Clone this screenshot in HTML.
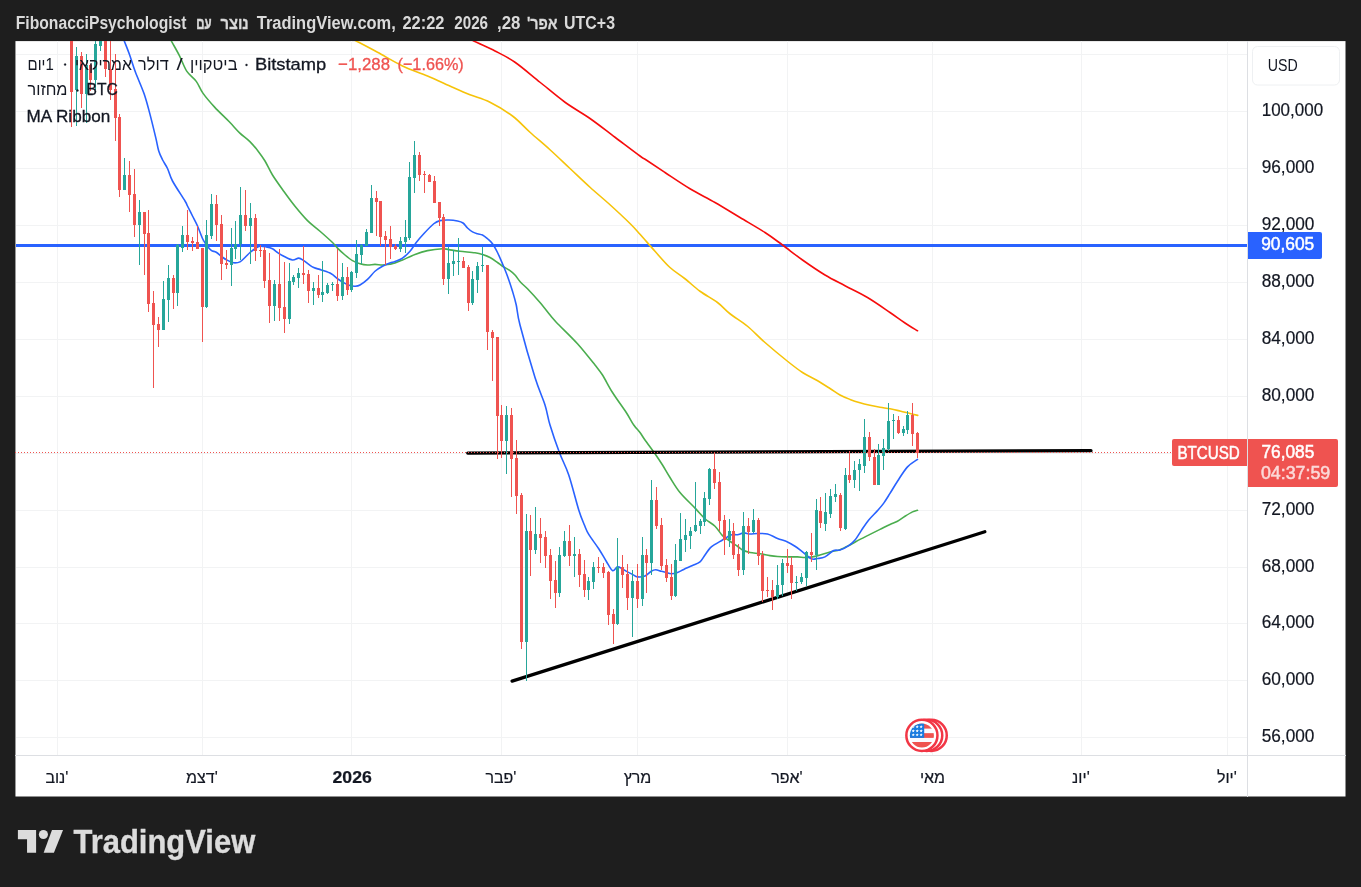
<!DOCTYPE html>
<html lang="he"><head><meta charset="utf-8"><title>BTCUSD</title>
<style>html,body{margin:0;padding:0;background:#1e1e1e;}body{width:1361px;height:887px;overflow:hidden;position:relative;font-family:"Liberation Sans",sans-serif;}svg{position:absolute;left:0;top:0;display:block}text{font-family:"Liberation Sans",sans-serif;}.v{direction:ltr;unicode-bidi:bidi-override}</style>
</head><body>
<svg width="1361" height="887" viewBox="0 0 1361 887" style="will-change:transform">
<rect x="0" y="0" width="1361" height="887" fill="#1e1e1e"/>
<rect x="15.45" y="41.1" width="1330.05" height="755.4" fill="#ffffff"/>
<defs><clipPath id="pane"><rect x="15" y="41" width="1232" height="714"/></clipPath><clipPath id="flag"><circle cx="921.9" cy="735.4" r="12"/></clipPath></defs>
<g shape-rendering="crispEdges" fill="#f2f3f4">
<rect x="57" y="41" width="1" height="714"/>
<rect x="202" y="41" width="1" height="714"/>
<rect x="351" y="41" width="1" height="714"/>
<rect x="501" y="41" width="1" height="714"/>
<rect x="637" y="41" width="1" height="714"/>
<rect x="787" y="41" width="1" height="714"/>
<rect x="932" y="41" width="1" height="714"/>
<rect x="1081" y="41" width="1" height="714"/>
<rect x="1227" y="41" width="1" height="714"/>
<rect x="16" y="54" width="1231" height="1"/>
<rect x="16" y="111" width="1231" height="1"/>
<rect x="16" y="168" width="1231" height="1"/>
<rect x="16" y="225" width="1231" height="1"/>
<rect x="16" y="282" width="1231" height="1"/>
<rect x="16" y="339" width="1231" height="1"/>
<rect x="16" y="396" width="1231" height="1"/>
<rect x="16" y="453" width="1231" height="1"/>
<rect x="16" y="510" width="1231" height="1"/>
<rect x="16" y="567" width="1231" height="1"/>
<rect x="16" y="623" width="1231" height="1"/>
<rect x="16" y="680" width="1231" height="1"/>
<rect x="16" y="737" width="1231" height="1"/>
</g>
<g shape-rendering="crispEdges" fill="#dddfe3">
<rect x="1247" y="41" width="1" height="756"/>
<rect x="15" y="755" width="1331" height="1"/>
</g>
<g clip-path="url(#pane)">
<rect x="16" y="244" width="1231" height="3" fill="#2962ff" shape-rendering="crispEdges"/>
<path d="M452.00,30.00 C455.62,31.83 466.58,37.50 473.75,41.00 C480.92,44.50 488.12,47.46 495.00,51.00 C501.88,54.54 507.50,57.04 515.00,62.25 C522.50,67.46 531.67,75.58 540.00,82.25 C548.33,88.92 556.67,96.21 565.00,102.25 C573.33,108.29 581.67,112.67 590.00,118.50 C598.33,124.33 606.67,131.00 615.00,137.25 C623.33,143.50 634.79,152.21 640.00,156.00 C645.21,159.79 642.08,157.25 646.25,160.00 C650.42,162.75 657.71,167.71 665.00,172.50 C672.29,177.29 681.67,183.75 690.00,188.75 C698.33,193.75 706.67,197.71 715.00,202.50 C723.33,207.29 731.67,212.50 740.00,217.50 C748.33,222.50 757.92,227.92 765.00,232.50 C772.08,237.08 776.25,240.42 782.50,245.00 C788.75,249.58 795.42,255.00 802.50,260.00 C809.58,265.00 817.92,270.71 825.00,275.00 C832.08,279.29 837.92,282.00 845.00,285.75 C852.08,289.50 860.00,293.04 867.50,297.50 C875.00,301.96 883.75,308.25 890.00,312.50 C896.25,316.75 900.42,319.96 905.00,323.00 C909.58,326.04 915.42,329.46 917.50,330.75" fill="none" stroke="#f60c0c" stroke-width="1.6" stroke-linejoin="round" stroke-linecap="round"/>
<path d="M335.00,30.00 C338.54,31.83 349.17,37.29 356.25,41.00 C363.33,44.71 369.79,48.08 377.50,52.25 C385.21,56.42 394.17,62.04 402.50,66.00 C410.83,69.96 419.17,72.46 427.50,76.00 C435.83,79.54 445.42,84.12 452.50,87.25 C459.58,90.38 463.75,92.25 470.00,94.75 C476.25,97.25 482.92,98.71 490.00,102.25 C497.08,105.79 505.83,111.00 512.50,116.00 C519.17,121.00 523.75,126.62 530.00,132.25 C536.25,137.88 543.33,143.71 550.00,149.75 C556.67,155.79 563.33,162.25 570.00,168.50 C576.67,174.75 583.33,181.21 590.00,187.25 C596.67,193.29 603.33,198.71 610.00,204.75 C616.67,210.79 625.00,218.58 630.00,223.50 C635.00,228.42 635.83,229.62 640.00,234.25 C644.17,238.88 650.00,245.71 655.00,251.25 C660.00,256.79 665.00,262.92 670.00,267.50 C675.00,272.08 680.00,274.79 685.00,278.75 C690.00,282.71 694.58,287.29 700.00,291.25 C705.42,295.21 712.50,298.75 717.50,302.50 C722.50,306.25 725.00,309.79 730.00,313.75 C735.00,317.71 741.67,321.46 747.50,326.25 C753.33,331.04 758.33,336.67 765.00,342.50 C771.67,348.33 781.25,356.25 787.50,361.25 C793.75,366.25 797.71,369.38 802.50,372.50 C807.29,375.62 811.67,377.33 816.25,380.00 C820.83,382.67 826.04,386.00 830.00,388.50 C833.96,391.00 836.67,393.18 840.00,395.00 C843.33,396.82 846.67,398.11 850.00,399.40 C853.33,400.69 856.67,401.77 860.00,402.75 C863.33,403.73 866.67,404.50 870.00,405.25 C873.33,406.00 876.67,406.67 880.00,407.25 C883.33,407.83 886.67,408.12 890.00,408.75 C893.33,409.38 896.67,410.21 900.00,411.00 C903.33,411.79 907.04,412.77 910.00,413.50 C912.96,414.23 916.46,415.08 917.75,415.40" fill="none" stroke="#f6c309" stroke-width="1.6" stroke-linejoin="round" stroke-linecap="round"/>
<path d="M165.50,30.00 C166.47,31.82 168.98,36.63 171.30,40.90 C173.62,45.17 176.83,50.57 179.40,55.60 C181.97,60.63 183.89,66.81 186.70,71.10 C189.51,75.39 193.55,77.68 196.25,81.35 C198.95,85.02 199.84,88.81 202.90,93.10 C205.96,97.39 210.20,102.32 214.60,107.10 C219.00,111.88 225.13,117.52 229.30,121.80 C233.47,126.08 236.17,129.50 239.60,132.80 C243.03,136.10 246.72,138.42 249.90,141.60 C253.08,144.78 256.18,148.67 258.70,151.90 C261.22,155.13 262.70,157.15 265.00,161.00 C267.30,164.85 269.38,169.96 272.50,175.00 C275.62,180.04 280.00,186.04 283.75,191.25 C287.50,196.46 291.04,201.36 295.00,206.25 C298.96,211.14 303.33,216.43 307.50,220.60 C311.67,224.77 315.83,227.60 320.00,231.25 C324.17,234.90 329.58,239.69 332.50,242.50 C335.42,245.31 335.42,246.02 337.50,248.10 C339.58,250.18 342.50,252.92 345.00,255.00 C347.50,257.08 350.00,259.14 352.50,260.60 C355.00,262.06 357.50,263.02 360.00,263.75 C362.50,264.48 365.00,264.89 367.50,265.00 C370.00,265.11 372.50,264.40 375.00,264.40 C377.50,264.40 380.00,265.03 382.50,265.00 C385.00,264.97 387.92,264.52 390.00,264.20 C392.08,263.88 392.92,263.80 395.00,263.10 C397.08,262.40 399.17,261.45 402.50,260.00 C405.83,258.55 410.83,255.97 415.00,254.40 C419.17,252.83 422.92,251.54 427.50,250.60 C432.08,249.66 438.96,248.92 442.50,248.75 C446.04,248.58 445.83,249.18 448.75,249.60 C451.67,250.02 455.62,250.72 460.00,251.25 C464.38,251.78 471.25,252.22 475.00,252.75 C478.75,253.28 480.00,253.61 482.50,254.40 C485.00,255.19 487.50,256.15 490.00,257.50 C492.50,258.85 495.42,261.04 497.50,262.50 C499.58,263.96 500.42,264.90 502.50,266.25 C504.58,267.60 507.92,269.14 510.00,270.60 C512.08,272.06 513.23,273.06 515.00,275.00 C516.77,276.94 518.52,279.96 520.60,282.25 C522.68,284.54 524.27,285.38 527.50,288.75 C530.73,292.12 535.83,297.61 540.00,302.50 C544.17,307.39 549.33,314.35 552.50,318.10 C555.67,321.85 554.83,320.73 559.00,325.00 C563.17,329.27 571.50,337.08 577.50,343.75 C583.50,350.42 590.83,359.79 595.00,365.00 C599.17,370.21 599.58,370.42 602.50,375.00 C605.42,379.58 608.54,386.25 612.50,392.50 C616.46,398.75 622.71,407.08 626.25,412.50 C629.79,417.92 631.46,421.67 633.75,425.00 C636.04,428.33 638.12,430.00 640.00,432.50 C641.88,435.00 642.50,436.46 645.00,440.00 C647.50,443.54 652.08,449.58 655.00,453.75 C657.92,457.92 660.00,461.04 662.50,465.00 C665.00,468.96 667.08,472.92 670.00,477.50 C672.92,482.08 675.83,487.40 680.00,492.50 C684.17,497.60 690.83,503.73 695.00,508.10 C699.17,512.48 701.67,515.73 705.00,518.75 C708.33,521.77 712.08,523.44 715.00,526.25 C717.92,529.06 720.00,533.10 722.50,535.60 C725.00,538.10 727.50,539.48 730.00,541.25 C732.50,543.02 735.42,544.79 737.50,546.25 C739.58,547.71 740.42,548.96 742.50,550.00 C744.58,551.04 747.08,551.88 750.00,552.50 C752.92,553.12 756.67,553.23 760.00,553.75 C763.33,554.27 767.08,555.14 770.00,555.60 C772.92,556.06 774.58,556.28 777.50,556.50 C780.42,556.72 784.17,556.83 787.50,556.90 C790.83,556.97 794.58,556.80 797.50,556.90 C800.42,557.00 802.50,557.50 805.00,557.50 C807.50,557.50 810.00,557.32 812.50,556.90 C815.00,556.48 817.08,555.83 820.00,555.00 C822.92,554.17 826.67,552.77 830.00,551.90 C833.33,551.02 836.67,550.90 840.00,549.75 C843.33,548.60 846.67,546.73 850.00,545.00 C853.33,543.27 856.67,541.17 860.00,539.40 C863.33,537.63 866.67,536.07 870.00,534.40 C873.33,532.73 876.67,531.07 880.00,529.40 C883.33,527.73 887.08,525.76 890.00,524.40 C892.92,523.04 895.00,522.61 897.50,521.25 C900.00,519.89 902.50,517.81 905.00,516.25 C907.50,514.69 910.42,512.89 912.50,511.90 C914.58,510.91 916.67,510.57 917.50,510.30" fill="none" stroke="#4aad4e" stroke-width="1.6" stroke-linejoin="round" stroke-linecap="round"/>
<path d="M120.00,30.00 C120.71,31.82 122.68,36.87 124.25,40.90 C125.82,44.93 127.56,49.05 129.40,54.20 C131.24,59.35 132.85,65.20 135.30,71.80 C137.75,78.40 141.65,86.70 144.10,93.80 C146.55,100.90 148.05,107.05 150.00,114.40 C151.95,121.75 154.34,131.80 155.80,137.90 C157.26,144.00 157.63,147.36 158.75,151.00 C159.87,154.64 161.04,156.83 162.50,159.75 C163.96,162.67 165.83,164.96 167.50,168.50 C169.17,172.04 169.58,175.58 172.50,181.00 C175.42,186.42 182.50,196.83 185.00,201.00 C187.50,205.17 186.25,203.50 187.50,206.00 C188.75,208.50 190.83,212.67 192.50,216.00 C194.17,219.33 195.83,222.25 197.50,226.00 C199.17,229.75 201.04,235.38 202.50,238.50 C203.96,241.62 204.79,242.77 206.25,244.75 C207.71,246.73 209.58,249.15 211.25,250.40 C212.92,251.65 214.38,251.11 216.25,252.25 C218.12,253.39 220.62,255.89 222.50,257.25 C224.38,258.61 226.08,259.62 227.50,260.40 C228.92,261.17 229.75,261.48 231.00,261.90 C232.25,262.32 233.50,262.90 235.00,262.90 C236.50,262.90 238.33,262.80 240.00,261.90 C241.67,261.00 243.33,259.07 245.00,257.50 C246.67,255.93 248.33,253.96 250.00,252.50 C251.67,251.04 253.33,249.79 255.00,248.75 C256.67,247.71 258.12,246.56 260.00,246.25 C261.88,245.94 264.17,246.48 266.25,246.90 C268.33,247.32 270.62,247.82 272.50,248.75 C274.38,249.68 275.62,251.25 277.50,252.50 C279.38,253.75 281.25,255.00 283.75,256.25 C286.25,257.50 290.00,259.69 292.50,260.00 C295.00,260.31 296.88,258.00 298.75,258.10 C300.62,258.20 302.08,259.55 303.75,260.60 C305.42,261.65 307.08,263.25 308.75,264.40 C310.42,265.55 311.67,266.57 313.75,267.50 C315.83,268.43 318.33,268.96 321.25,270.00 C324.17,271.04 328.54,272.29 331.25,273.75 C333.96,275.21 335.21,277.14 337.50,278.75 C339.79,280.36 342.92,282.26 345.00,283.40 C347.08,284.54 348.33,285.12 350.00,285.60 C351.67,286.08 353.33,286.35 355.00,286.25 C356.67,286.15 357.92,286.14 360.00,285.00 C362.08,283.86 365.00,281.69 367.50,279.40 C370.00,277.11 372.50,273.44 375.00,271.25 C377.50,269.06 380.00,267.62 382.50,266.25 C385.00,264.88 387.92,263.79 390.00,263.00 C392.08,262.21 392.92,262.32 395.00,261.50 C397.08,260.68 400.00,259.81 402.50,258.10 C405.00,256.39 407.71,253.85 410.00,251.25 C412.29,248.65 413.96,245.42 416.25,242.50 C418.54,239.58 420.83,236.88 423.75,233.75 C426.67,230.62 431.04,225.94 433.75,223.75 C436.46,221.56 437.50,221.22 440.00,220.60 C442.50,219.97 445.83,219.93 448.75,220.00 C451.67,220.07 455.12,220.50 457.50,221.00 C459.88,221.50 461.33,221.83 463.00,223.00 C464.67,224.17 465.92,226.52 467.50,228.00 C469.08,229.48 470.83,230.94 472.50,231.90 C474.17,232.86 475.83,233.23 477.50,233.75 C479.17,234.27 480.83,234.17 482.50,235.00 C484.17,235.83 485.83,237.29 487.50,238.75 C489.17,240.21 490.83,241.46 492.50,243.75 C494.17,246.04 495.83,249.17 497.50,252.50 C499.17,255.83 500.83,259.79 502.50,263.75 C504.17,267.71 505.83,271.67 507.50,276.25 C509.17,280.83 511.04,286.46 512.50,291.25 C513.96,296.04 515.00,299.38 516.25,305.00 C517.50,310.62 516.88,312.92 520.00,325.00 C523.12,337.08 530.83,364.17 535.00,377.50 C539.17,390.83 542.50,397.08 545.00,405.00 C547.50,412.92 547.60,417.08 550.00,425.00 C552.40,432.92 556.27,444.17 559.40,452.50 C562.52,460.83 565.52,465.42 568.75,475.00 C571.98,484.58 576.14,501.67 578.75,510.00 C581.36,518.33 582.73,520.93 584.40,525.00 C586.07,529.07 586.36,530.44 588.75,534.40 C591.14,538.36 595.83,544.27 598.75,548.75 C601.67,553.23 603.96,557.61 606.25,561.25 C608.54,564.89 610.62,569.66 612.50,570.60 C614.38,571.54 615.83,567.17 617.50,566.90 C619.17,566.63 620.83,568.17 622.50,569.00 C624.17,569.83 625.83,571.00 627.50,571.90 C629.17,572.80 630.83,573.57 632.50,574.40 C634.17,575.23 635.42,576.63 637.50,576.90 C639.58,577.17 642.71,576.94 645.00,576.00 C647.29,575.06 649.48,572.29 651.25,571.25 C653.02,570.21 653.93,569.75 655.60,569.75 C657.27,569.75 659.48,570.79 661.25,571.25 C663.02,571.71 664.58,572.08 666.25,572.50 C667.92,572.92 669.38,573.75 671.25,573.75 C673.12,573.75 675.42,573.23 677.50,572.50 C679.58,571.77 681.25,570.55 683.75,569.40 C686.25,568.25 689.79,566.85 692.50,565.60 C695.21,564.35 697.92,563.67 700.00,561.90 C702.08,560.13 703.33,557.30 705.00,555.00 C706.67,552.70 708.33,549.87 710.00,548.10 C711.67,546.33 712.92,545.75 715.00,544.40 C717.08,543.05 720.42,541.25 722.50,540.00 C724.58,538.75 725.83,537.82 727.50,536.90 C729.17,535.98 730.83,534.86 732.50,534.50 C734.17,534.14 735.62,535.02 737.50,534.75 C739.38,534.48 741.67,533.02 743.75,532.90 C745.83,532.77 747.71,533.90 750.00,534.00 C752.29,534.10 754.58,533.50 757.50,533.50 C760.42,533.50 764.17,533.17 767.50,534.00 C770.83,534.83 774.17,537.18 777.50,538.50 C780.83,539.82 784.58,540.61 787.50,541.90 C790.42,543.19 792.50,544.58 795.00,546.25 C797.50,547.92 799.79,549.82 802.50,551.90 C805.21,553.98 808.75,557.65 811.25,558.75 C813.75,559.85 815.21,558.81 817.50,558.50 C819.79,558.19 822.29,558.22 825.00,556.90 C827.71,555.58 831.25,551.75 833.75,550.60 C836.25,549.45 837.50,550.83 840.00,550.00 C842.50,549.17 846.25,547.27 848.75,545.60 C851.25,543.93 852.92,542.50 855.00,540.00 C857.08,537.50 858.96,533.93 861.25,530.60 C863.54,527.27 866.04,523.33 868.75,520.00 C871.46,516.67 875.00,513.42 877.50,510.60 C880.00,507.78 881.67,505.97 883.75,503.10 C885.83,500.23 887.71,497.04 890.00,493.40 C892.29,489.76 894.58,485.67 897.50,481.25 C900.42,476.83 904.17,470.54 907.50,466.90 C910.83,463.26 915.83,460.65 917.50,459.40" fill="none" stroke="#2962ff" stroke-width="1.6" stroke-linejoin="round" stroke-linecap="round"/>
<line x1="467.7" y1="453.05" x2="1091" y2="450.7" stroke="#000" stroke-width="3.25" stroke-linecap="round"/>
<line x1="512.1" y1="681.1" x2="984.8" y2="531.8" stroke="#000" stroke-width="3.3" stroke-linecap="round"/>
<g shape-rendering="crispEdges">
<rect x="71" y="30" width="1" height="97" fill="#ef5350"/><rect x="70" y="30" width="3" height="62" fill="#ef5350"/>
<rect x="76" y="47" width="1" height="79" fill="#26a69a"/><rect x="75" y="56" width="3" height="34" fill="#26a69a"/>
<rect x="81" y="52" width="1" height="56" fill="#ef5350"/><rect x="80" y="56" width="3" height="38" fill="#ef5350"/>
<rect x="86" y="54" width="1" height="69" fill="#26a69a"/><rect x="85" y="65" width="3" height="29" fill="#26a69a"/>
<rect x="90" y="64" width="1" height="27" fill="#ef5350"/><rect x="89" y="65" width="3" height="15" fill="#ef5350"/>
<rect x="95" y="30" width="1" height="60" fill="#26a69a"/><rect x="94" y="44" width="3" height="36" fill="#26a69a"/>
<rect x="100" y="30" width="1" height="21" fill="#26a69a"/><rect x="99" y="30" width="3" height="16" fill="#26a69a"/>
<rect x="105" y="30" width="1" height="47" fill="#ef5350"/><rect x="104" y="30" width="3" height="39" fill="#ef5350"/>
<rect x="110" y="30" width="1" height="70" fill="#ef5350"/><rect x="109" y="69" width="3" height="21" fill="#ef5350"/>
<rect x="115" y="54" width="1" height="87" fill="#ef5350"/><rect x="114" y="89" width="3" height="29" fill="#ef5350"/>
<rect x="119" y="114" width="1" height="83" fill="#ef5350"/><rect x="118" y="117" width="3" height="73" fill="#ef5350"/>
<rect x="124" y="158" width="1" height="32" fill="#26a69a"/><rect x="123" y="175" width="3" height="15" fill="#26a69a"/>
<rect x="129" y="161" width="1" height="51" fill="#ef5350"/><rect x="128" y="175" width="3" height="20" fill="#ef5350"/>
<rect x="134" y="169" width="1" height="68" fill="#ef5350"/><rect x="133" y="194" width="3" height="31" fill="#ef5350"/>
<rect x="139" y="200" width="1" height="65" fill="#26a69a"/><rect x="138" y="212" width="3" height="13" fill="#26a69a"/>
<rect x="144" y="212" width="1" height="63" fill="#ef5350"/><rect x="143" y="212" width="3" height="22" fill="#ef5350"/>
<rect x="148" y="210" width="1" height="102" fill="#ef5350"/><rect x="147" y="233" width="3" height="71" fill="#ef5350"/>
<rect x="153" y="291" width="1" height="97" fill="#ef5350"/><rect x="152" y="303" width="3" height="22" fill="#ef5350"/>
<rect x="158" y="317" width="1" height="30" fill="#ef5350"/><rect x="157" y="324" width="3" height="6" fill="#ef5350"/>
<rect x="163" y="281" width="1" height="49" fill="#26a69a"/><rect x="162" y="299" width="3" height="31" fill="#26a69a"/>
<rect x="168" y="265" width="1" height="57" fill="#26a69a"/><rect x="167" y="278" width="3" height="22" fill="#26a69a"/>
<rect x="173" y="275" width="1" height="34" fill="#ef5350"/><rect x="172" y="278" width="3" height="15" fill="#ef5350"/>
<rect x="177" y="244" width="1" height="62" fill="#26a69a"/><rect x="176" y="245" width="3" height="48" fill="#26a69a"/>
<rect x="182" y="226" width="1" height="26" fill="#26a69a"/><rect x="181" y="235" width="3" height="13" fill="#26a69a"/>
<rect x="187" y="210" width="1" height="40" fill="#ef5350"/><rect x="186" y="235" width="3" height="7" fill="#ef5350"/>
<rect x="192" y="237" width="1" height="14" fill="#ef5350"/><rect x="191" y="241" width="3" height="2" fill="#ef5350"/>
<rect x="197" y="226" width="1" height="23" fill="#ef5350"/><rect x="196" y="242" width="3" height="7" fill="#ef5350"/>
<rect x="202" y="248" width="1" height="94" fill="#ef5350"/><rect x="201" y="248" width="3" height="59" fill="#ef5350"/>
<rect x="206" y="220" width="1" height="88" fill="#26a69a"/><rect x="205" y="235" width="3" height="72" fill="#26a69a"/>
<rect x="211" y="194" width="1" height="45" fill="#26a69a"/><rect x="210" y="204" width="3" height="32" fill="#26a69a"/>
<rect x="216" y="195" width="1" height="46" fill="#ef5350"/><rect x="215" y="204" width="3" height="21" fill="#ef5350"/>
<rect x="221" y="215" width="1" height="65" fill="#ef5350"/><rect x="220" y="224" width="3" height="40" fill="#ef5350"/>
<rect x="226" y="250" width="1" height="19" fill="#ef5350"/><rect x="225" y="263" width="3" height="2" fill="#ef5350"/>
<rect x="231" y="228" width="1" height="58" fill="#26a69a"/><rect x="230" y="248" width="3" height="17" fill="#26a69a"/>
<rect x="235" y="221" width="1" height="38" fill="#26a69a"/><rect x="234" y="244" width="3" height="5" fill="#26a69a"/>
<rect x="240" y="187" width="1" height="73" fill="#26a69a"/><rect x="239" y="215" width="3" height="29" fill="#26a69a"/>
<rect x="245" y="190" width="1" height="41" fill="#ef5350"/><rect x="244" y="215" width="3" height="11" fill="#ef5350"/>
<rect x="250" y="203" width="1" height="61" fill="#26a69a"/><rect x="249" y="218" width="3" height="8" fill="#26a69a"/>
<rect x="255" y="214" width="1" height="47" fill="#ef5350"/><rect x="254" y="218" width="3" height="33" fill="#ef5350"/>
<rect x="260" y="245" width="1" height="12" fill="#ef5350"/><rect x="259" y="250" width="3" height="1" fill="#ef5350"/>
<rect x="264" y="247" width="1" height="41" fill="#ef5350"/><rect x="263" y="250" width="3" height="31" fill="#ef5350"/>
<rect x="269" y="253" width="1" height="70" fill="#ef5350"/><rect x="268" y="280" width="3" height="26" fill="#ef5350"/>
<rect x="274" y="280" width="1" height="41" fill="#26a69a"/><rect x="273" y="284" width="3" height="22" fill="#26a69a"/>
<rect x="279" y="249" width="1" height="72" fill="#ef5350"/><rect x="278" y="284" width="3" height="24" fill="#ef5350"/>
<rect x="284" y="262" width="1" height="71" fill="#ef5350"/><rect x="283" y="307" width="3" height="12" fill="#ef5350"/>
<rect x="289" y="263" width="1" height="61" fill="#26a69a"/><rect x="288" y="281" width="3" height="38" fill="#26a69a"/>
<rect x="293" y="275" width="1" height="10" fill="#26a69a"/><rect x="292" y="277" width="3" height="5" fill="#26a69a"/>
<rect x="298" y="268" width="1" height="20" fill="#26a69a"/><rect x="297" y="273" width="3" height="5" fill="#26a69a"/>
<rect x="303" y="246" width="1" height="38" fill="#ef5350"/><rect x="302" y="273" width="3" height="2" fill="#ef5350"/>
<rect x="308" y="270" width="1" height="33" fill="#ef5350"/><rect x="307" y="274" width="3" height="17" fill="#ef5350"/>
<rect x="313" y="282" width="1" height="23" fill="#26a69a"/><rect x="312" y="288" width="3" height="3" fill="#26a69a"/>
<rect x="318" y="275" width="1" height="23" fill="#ef5350"/><rect x="317" y="288" width="3" height="7" fill="#ef5350"/>
<rect x="322" y="261" width="1" height="41" fill="#26a69a"/><rect x="321" y="292" width="3" height="3" fill="#26a69a"/>
<rect x="327" y="283" width="1" height="11" fill="#26a69a"/><rect x="326" y="285" width="3" height="8" fill="#26a69a"/>
<rect x="332" y="282" width="1" height="9" fill="#26a69a"/><rect x="331" y="284" width="3" height="1" fill="#26a69a"/>
<rect x="337" y="249" width="1" height="52" fill="#ef5350"/><rect x="336" y="284" width="3" height="12" fill="#ef5350"/>
<rect x="342" y="263" width="1" height="37" fill="#26a69a"/><rect x="341" y="277" width="3" height="19" fill="#26a69a"/>
<rect x="347" y="267" width="1" height="28" fill="#ef5350"/><rect x="346" y="277" width="3" height="13" fill="#ef5350"/>
<rect x="351" y="271" width="1" height="21" fill="#26a69a"/><rect x="350" y="272" width="3" height="18" fill="#26a69a"/>
<rect x="356" y="240" width="1" height="38" fill="#26a69a"/><rect x="355" y="254" width="3" height="19" fill="#26a69a"/>
<rect x="361" y="244" width="1" height="20" fill="#26a69a"/><rect x="360" y="245" width="3" height="10" fill="#26a69a"/>
<rect x="366" y="229" width="1" height="17" fill="#26a69a"/><rect x="365" y="232" width="3" height="14" fill="#26a69a"/>
<rect x="371" y="185" width="1" height="48" fill="#26a69a"/><rect x="370" y="198" width="3" height="35" fill="#26a69a"/>
<rect x="376" y="191" width="1" height="45" fill="#ef5350"/><rect x="375" y="198" width="3" height="4" fill="#ef5350"/>
<rect x="380" y="201" width="1" height="45" fill="#ef5350"/><rect x="379" y="201" width="3" height="36" fill="#ef5350"/>
<rect x="385" y="231" width="1" height="34" fill="#ef5350"/><rect x="384" y="236" width="3" height="4" fill="#ef5350"/>
<rect x="390" y="226" width="1" height="33" fill="#ef5350"/><rect x="389" y="239" width="3" height="8" fill="#ef5350"/>
<rect x="395" y="244" width="1" height="6" fill="#ef5350"/><rect x="394" y="246" width="3" height="3" fill="#ef5350"/>
<rect x="400" y="237" width="1" height="15" fill="#26a69a"/><rect x="399" y="241" width="3" height="8" fill="#26a69a"/>
<rect x="405" y="220" width="1" height="33" fill="#26a69a"/><rect x="404" y="237" width="3" height="5" fill="#26a69a"/>
<rect x="409" y="162" width="1" height="78" fill="#26a69a"/><rect x="408" y="177" width="3" height="61" fill="#26a69a"/>
<rect x="414" y="141" width="1" height="52" fill="#26a69a"/><rect x="413" y="155" width="3" height="23" fill="#26a69a"/>
<rect x="419" y="152" width="1" height="29" fill="#ef5350"/><rect x="418" y="155" width="3" height="20" fill="#ef5350"/>
<rect x="424" y="171" width="1" height="22" fill="#ef5350"/><rect x="423" y="174" width="3" height="1" fill="#ef5350"/>
<rect x="429" y="174" width="1" height="8" fill="#ef5350"/><rect x="428" y="175" width="3" height="7" fill="#ef5350"/>
<rect x="434" y="176" width="1" height="27" fill="#ef5350"/><rect x="433" y="181" width="3" height="22" fill="#ef5350"/>
<rect x="439" y="202" width="1" height="24" fill="#ef5350"/><rect x="438" y="202" width="3" height="16" fill="#ef5350"/>
<rect x="443" y="214" width="1" height="71" fill="#ef5350"/><rect x="442" y="217" width="3" height="62" fill="#ef5350"/>
<rect x="448" y="247" width="1" height="47" fill="#26a69a"/><rect x="447" y="263" width="3" height="16" fill="#26a69a"/>
<rect x="453" y="250" width="1" height="26" fill="#26a69a"/><rect x="452" y="261" width="3" height="3" fill="#26a69a"/>
<rect x="458" y="238" width="1" height="37" fill="#26a69a"/><rect x="457" y="261" width="3" height="1" fill="#26a69a"/>
<rect x="463" y="257" width="1" height="11" fill="#ef5350"/><rect x="462" y="261" width="3" height="7" fill="#ef5350"/>
<rect x="468" y="265" width="1" height="46" fill="#ef5350"/><rect x="467" y="267" width="3" height="36" fill="#ef5350"/>
<rect x="472" y="271" width="1" height="34" fill="#26a69a"/><rect x="471" y="279" width="3" height="24" fill="#26a69a"/>
<rect x="477" y="262" width="1" height="31" fill="#26a69a"/><rect x="476" y="266" width="3" height="14" fill="#26a69a"/>
<rect x="482" y="247" width="1" height="25" fill="#26a69a"/><rect x="481" y="265" width="3" height="1" fill="#26a69a"/>
<rect x="487" y="265" width="1" height="85" fill="#ef5350"/><rect x="486" y="265" width="3" height="67" fill="#ef5350"/>
<rect x="492" y="330" width="1" height="51" fill="#ef5350"/><rect x="491" y="332" width="3" height="6" fill="#ef5350"/>
<rect x="497" y="337" width="1" height="122" fill="#ef5350"/><rect x="496" y="337" width="3" height="79" fill="#ef5350"/>
<rect x="501" y="405" width="1" height="53" fill="#ef5350"/><rect x="500" y="415" width="3" height="26" fill="#ef5350"/>
<rect x="506" y="406" width="1" height="68" fill="#26a69a"/><rect x="505" y="415" width="3" height="26" fill="#26a69a"/>
<rect x="511" y="408" width="1" height="89" fill="#ef5350"/><rect x="510" y="415" width="3" height="44" fill="#ef5350"/>
<rect x="516" y="440" width="1" height="74" fill="#ef5350"/><rect x="515" y="458" width="3" height="38" fill="#ef5350"/>
<rect x="521" y="493" width="1" height="156" fill="#ef5350"/><rect x="520" y="495" width="3" height="147" fill="#ef5350"/>
<rect x="526" y="514" width="1" height="167" fill="#26a69a"/><rect x="525" y="531" width="3" height="111" fill="#26a69a"/>
<rect x="530" y="515" width="1" height="61" fill="#ef5350"/><rect x="529" y="531" width="3" height="19" fill="#ef5350"/>
<rect x="535" y="507" width="1" height="47" fill="#26a69a"/><rect x="534" y="534" width="3" height="16" fill="#26a69a"/>
<rect x="540" y="518" width="1" height="45" fill="#ef5350"/><rect x="539" y="534" width="3" height="4" fill="#ef5350"/>
<rect x="545" y="531" width="1" height="37" fill="#ef5350"/><rect x="544" y="537" width="3" height="19" fill="#ef5350"/>
<rect x="550" y="549" width="1" height="50" fill="#ef5350"/><rect x="549" y="555" width="3" height="26" fill="#ef5350"/>
<rect x="555" y="561" width="1" height="47" fill="#ef5350"/><rect x="554" y="580" width="3" height="13" fill="#ef5350"/>
<rect x="559" y="547" width="1" height="50" fill="#26a69a"/><rect x="558" y="555" width="3" height="38" fill="#26a69a"/>
<rect x="564" y="531" width="1" height="26" fill="#26a69a"/><rect x="563" y="541" width="3" height="15" fill="#26a69a"/>
<rect x="569" y="525" width="1" height="41" fill="#ef5350"/><rect x="568" y="541" width="3" height="15" fill="#ef5350"/>
<rect x="574" y="537" width="1" height="40" fill="#26a69a"/><rect x="573" y="554" width="3" height="2" fill="#26a69a"/>
<rect x="579" y="549" width="1" height="38" fill="#ef5350"/><rect x="578" y="554" width="3" height="21" fill="#ef5350"/>
<rect x="584" y="560" width="1" height="37" fill="#ef5350"/><rect x="583" y="574" width="3" height="16" fill="#ef5350"/>
<rect x="588" y="577" width="1" height="23" fill="#26a69a"/><rect x="587" y="581" width="3" height="9" fill="#26a69a"/>
<rect x="593" y="562" width="1" height="27" fill="#26a69a"/><rect x="592" y="567" width="3" height="15" fill="#26a69a"/>
<rect x="598" y="557" width="1" height="16" fill="#ef5350"/><rect x="597" y="567" width="3" height="1" fill="#ef5350"/>
<rect x="603" y="563" width="1" height="15" fill="#ef5350"/><rect x="602" y="567" width="3" height="6" fill="#ef5350"/>
<rect x="608" y="571" width="1" height="54" fill="#ef5350"/><rect x="607" y="572" width="3" height="43" fill="#ef5350"/>
<rect x="613" y="609" width="1" height="35" fill="#ef5350"/><rect x="612" y="614" width="3" height="10" fill="#ef5350"/>
<rect x="617" y="538" width="1" height="87" fill="#26a69a"/><rect x="616" y="567" width="3" height="57" fill="#26a69a"/>
<rect x="622" y="555" width="1" height="33" fill="#ef5350"/><rect x="621" y="567" width="3" height="8" fill="#ef5350"/>
<rect x="627" y="564" width="1" height="46" fill="#ef5350"/><rect x="626" y="574" width="3" height="24" fill="#ef5350"/>
<rect x="632" y="570" width="1" height="67" fill="#26a69a"/><rect x="631" y="581" width="3" height="17" fill="#26a69a"/>
<rect x="637" y="564" width="1" height="44" fill="#ef5350"/><rect x="636" y="581" width="3" height="18" fill="#ef5350"/>
<rect x="642" y="537" width="1" height="69" fill="#26a69a"/><rect x="641" y="555" width="3" height="44" fill="#26a69a"/>
<rect x="646" y="549" width="1" height="44" fill="#ef5350"/><rect x="645" y="555" width="3" height="8" fill="#ef5350"/>
<rect x="651" y="480" width="1" height="95" fill="#26a69a"/><rect x="650" y="500" width="3" height="63" fill="#26a69a"/>
<rect x="656" y="487" width="1" height="42" fill="#ef5350"/><rect x="655" y="500" width="3" height="26" fill="#ef5350"/>
<rect x="661" y="518" width="1" height="52" fill="#ef5350"/><rect x="660" y="525" width="3" height="41" fill="#ef5350"/>
<rect x="666" y="559" width="1" height="23" fill="#ef5350"/><rect x="665" y="565" width="3" height="13" fill="#ef5350"/>
<rect x="671" y="564" width="1" height="36" fill="#ef5350"/><rect x="670" y="577" width="3" height="19" fill="#ef5350"/>
<rect x="675" y="544" width="1" height="53" fill="#26a69a"/><rect x="674" y="560" width="3" height="36" fill="#26a69a"/>
<rect x="680" y="513" width="1" height="48" fill="#26a69a"/><rect x="679" y="539" width="3" height="22" fill="#26a69a"/>
<rect x="685" y="519" width="1" height="33" fill="#26a69a"/><rect x="684" y="535" width="3" height="5" fill="#26a69a"/>
<rect x="690" y="527" width="1" height="22" fill="#26a69a"/><rect x="689" y="531" width="3" height="5" fill="#26a69a"/>
<rect x="695" y="482" width="1" height="50" fill="#26a69a"/><rect x="694" y="525" width="3" height="6" fill="#26a69a"/>
<rect x="700" y="519" width="1" height="15" fill="#26a69a"/><rect x="699" y="521" width="3" height="5" fill="#26a69a"/>
<rect x="704" y="492" width="1" height="34" fill="#26a69a"/><rect x="703" y="498" width="3" height="24" fill="#26a69a"/>
<rect x="709" y="468" width="1" height="37" fill="#26a69a"/><rect x="708" y="469" width="3" height="30" fill="#26a69a"/>
<rect x="714" y="453" width="1" height="36" fill="#ef5350"/><rect x="713" y="469" width="3" height="14" fill="#ef5350"/>
<rect x="719" y="472" width="1" height="59" fill="#ef5350"/><rect x="718" y="482" width="3" height="39" fill="#ef5350"/>
<rect x="724" y="515" width="1" height="40" fill="#ef5350"/><rect x="723" y="520" width="3" height="20" fill="#ef5350"/>
<rect x="729" y="519" width="1" height="28" fill="#26a69a"/><rect x="728" y="531" width="3" height="9" fill="#26a69a"/>
<rect x="733" y="523" width="1" height="36" fill="#ef5350"/><rect x="732" y="531" width="3" height="24" fill="#ef5350"/>
<rect x="738" y="544" width="1" height="32" fill="#ef5350"/><rect x="737" y="554" width="3" height="16" fill="#ef5350"/>
<rect x="743" y="512" width="1" height="63" fill="#26a69a"/><rect x="742" y="526" width="3" height="44" fill="#26a69a"/>
<rect x="748" y="518" width="1" height="36" fill="#ef5350"/><rect x="747" y="526" width="3" height="6" fill="#ef5350"/>
<rect x="753" y="509" width="1" height="24" fill="#26a69a"/><rect x="752" y="520" width="3" height="12" fill="#26a69a"/>
<rect x="758" y="518" width="1" height="47" fill="#ef5350"/><rect x="757" y="520" width="3" height="36" fill="#ef5350"/>
<rect x="762" y="551" width="1" height="51" fill="#ef5350"/><rect x="761" y="555" width="3" height="36" fill="#ef5350"/>
<rect x="767" y="577" width="1" height="20" fill="#ef5350"/><rect x="766" y="590" width="3" height="1" fill="#ef5350"/>
<rect x="772" y="580" width="1" height="30" fill="#ef5350"/><rect x="771" y="590" width="3" height="7" fill="#ef5350"/>
<rect x="777" y="565" width="1" height="34" fill="#26a69a"/><rect x="776" y="585" width="3" height="12" fill="#26a69a"/>
<rect x="782" y="559" width="1" height="37" fill="#26a69a"/><rect x="781" y="563" width="3" height="22" fill="#26a69a"/>
<rect x="787" y="549" width="1" height="24" fill="#ef5350"/><rect x="786" y="563" width="3" height="3" fill="#ef5350"/>
<rect x="791" y="557" width="1" height="42" fill="#ef5350"/><rect x="790" y="565" width="3" height="18" fill="#ef5350"/>
<rect x="796" y="576" width="1" height="15" fill="#26a69a"/><rect x="795" y="582" width="3" height="1" fill="#26a69a"/>
<rect x="801" y="573" width="1" height="11" fill="#26a69a"/><rect x="800" y="577" width="3" height="5" fill="#26a69a"/>
<rect x="806" y="551" width="1" height="35" fill="#26a69a"/><rect x="805" y="552" width="3" height="26" fill="#26a69a"/>
<rect x="811" y="533" width="1" height="29" fill="#ef5350"/><rect x="810" y="552" width="3" height="3" fill="#ef5350"/>
<rect x="816" y="499" width="1" height="71" fill="#26a69a"/><rect x="815" y="510" width="3" height="45" fill="#26a69a"/>
<rect x="820" y="497" width="1" height="31" fill="#ef5350"/><rect x="819" y="511" width="3" height="12" fill="#ef5350"/>
<rect x="825" y="493" width="1" height="38" fill="#26a69a"/><rect x="824" y="512" width="3" height="12" fill="#26a69a"/>
<rect x="830" y="489" width="1" height="29" fill="#26a69a"/><rect x="829" y="496" width="3" height="18" fill="#26a69a"/>
<rect x="835" y="484" width="1" height="18" fill="#26a69a"/><rect x="834" y="494" width="3" height="3" fill="#26a69a"/>
<rect x="840" y="493" width="1" height="38" fill="#ef5350"/><rect x="839" y="495" width="3" height="33" fill="#ef5350"/>
<rect x="845" y="468" width="1" height="62" fill="#26a69a"/><rect x="844" y="475" width="3" height="54" fill="#26a69a"/>
<rect x="849" y="451" width="1" height="32" fill="#ef5350"/><rect x="848" y="475" width="3" height="5" fill="#ef5350"/>
<rect x="854" y="461" width="1" height="27" fill="#26a69a"/><rect x="853" y="470" width="3" height="10" fill="#26a69a"/>
<rect x="859" y="459" width="1" height="32" fill="#26a69a"/><rect x="858" y="464" width="3" height="6" fill="#26a69a"/>
<rect x="864" y="419" width="1" height="54" fill="#26a69a"/><rect x="863" y="437" width="3" height="29" fill="#26a69a"/>
<rect x="869" y="432" width="1" height="29" fill="#ef5350"/><rect x="868" y="437" width="3" height="20" fill="#ef5350"/>
<rect x="874" y="449" width="1" height="36" fill="#ef5350"/><rect x="873" y="457" width="3" height="28" fill="#ef5350"/>
<rect x="878" y="444" width="1" height="41" fill="#26a69a"/><rect x="877" y="455" width="3" height="30" fill="#26a69a"/>
<rect x="883" y="439" width="1" height="31" fill="#26a69a"/><rect x="882" y="448" width="3" height="8" fill="#26a69a"/>
<rect x="888" y="403" width="1" height="48" fill="#26a69a"/><rect x="887" y="421" width="3" height="28" fill="#26a69a"/>
<rect x="893" y="414" width="1" height="25" fill="#26a69a"/><rect x="892" y="420" width="3" height="1" fill="#26a69a"/>
<rect x="898" y="416" width="1" height="18" fill="#ef5350"/><rect x="897" y="420" width="3" height="13" fill="#ef5350"/>
<rect x="903" y="426" width="1" height="10" fill="#26a69a"/><rect x="902" y="429" width="3" height="4" fill="#26a69a"/>
<rect x="907" y="411" width="1" height="23" fill="#26a69a"/><rect x="906" y="415" width="3" height="15" fill="#26a69a"/>
<rect x="912" y="403" width="1" height="43" fill="#ef5350"/><rect x="911" y="415" width="3" height="19" fill="#ef5350"/>
<rect x="917" y="432" width="1" height="26" fill="#ef5350"/><rect x="916" y="433" width="3" height="20" fill="#ef5350"/>
</g>
<g shape-rendering="crispEdges" fill="#ef5350">
<path d="M15,452h1v1h-1zM18,452h1v1h-1zM21,452h1v1h-1zM24,452h1v1h-1zM27,452h1v1h-1zM30,452h1v1h-1zM33,452h1v1h-1zM36,452h1v1h-1zM39,452h1v1h-1zM42,452h1v1h-1zM45,452h1v1h-1zM48,452h1v1h-1zM51,452h1v1h-1zM54,452h1v1h-1zM57,452h1v1h-1zM60,452h1v1h-1zM63,452h1v1h-1zM66,452h1v1h-1zM69,452h1v1h-1zM72,452h1v1h-1zM75,452h1v1h-1zM78,452h1v1h-1zM81,452h1v1h-1zM84,452h1v1h-1zM87,452h1v1h-1zM90,452h1v1h-1zM93,452h1v1h-1zM96,452h1v1h-1zM99,452h1v1h-1zM102,452h1v1h-1zM105,452h1v1h-1zM108,452h1v1h-1zM111,452h1v1h-1zM114,452h1v1h-1zM117,452h1v1h-1zM120,452h1v1h-1zM123,452h1v1h-1zM126,452h1v1h-1zM129,452h1v1h-1zM132,452h1v1h-1zM135,452h1v1h-1zM138,452h1v1h-1zM141,452h1v1h-1zM144,452h1v1h-1zM147,452h1v1h-1zM150,452h1v1h-1zM153,452h1v1h-1zM156,452h1v1h-1zM159,452h1v1h-1zM162,452h1v1h-1zM165,452h1v1h-1zM168,452h1v1h-1zM171,452h1v1h-1zM174,452h1v1h-1zM177,452h1v1h-1zM180,452h1v1h-1zM183,452h1v1h-1zM186,452h1v1h-1zM189,452h1v1h-1zM192,452h1v1h-1zM195,452h1v1h-1zM198,452h1v1h-1zM201,452h1v1h-1zM204,452h1v1h-1zM207,452h1v1h-1zM210,452h1v1h-1zM213,452h1v1h-1zM216,452h1v1h-1zM219,452h1v1h-1zM222,452h1v1h-1zM225,452h1v1h-1zM228,452h1v1h-1zM231,452h1v1h-1zM234,452h1v1h-1zM237,452h1v1h-1zM240,452h1v1h-1zM243,452h1v1h-1zM246,452h1v1h-1zM249,452h1v1h-1zM252,452h1v1h-1zM255,452h1v1h-1zM258,452h1v1h-1zM261,452h1v1h-1zM264,452h1v1h-1zM267,452h1v1h-1zM270,452h1v1h-1zM273,452h1v1h-1zM276,452h1v1h-1zM279,452h1v1h-1zM282,452h1v1h-1zM285,452h1v1h-1zM288,452h1v1h-1zM291,452h1v1h-1zM294,452h1v1h-1zM297,452h1v1h-1zM300,452h1v1h-1zM303,452h1v1h-1zM306,452h1v1h-1zM309,452h1v1h-1zM312,452h1v1h-1zM315,452h1v1h-1zM318,452h1v1h-1zM321,452h1v1h-1zM324,452h1v1h-1zM327,452h1v1h-1zM330,452h1v1h-1zM333,452h1v1h-1zM336,452h1v1h-1zM339,452h1v1h-1zM342,452h1v1h-1zM345,452h1v1h-1zM348,452h1v1h-1zM351,452h1v1h-1zM354,452h1v1h-1zM357,452h1v1h-1zM360,452h1v1h-1zM363,452h1v1h-1zM366,452h1v1h-1zM369,452h1v1h-1zM372,452h1v1h-1zM375,452h1v1h-1zM378,452h1v1h-1zM381,452h1v1h-1zM384,452h1v1h-1zM387,452h1v1h-1zM390,452h1v1h-1zM393,452h1v1h-1zM396,452h1v1h-1zM399,452h1v1h-1zM402,452h1v1h-1zM405,452h1v1h-1zM408,452h1v1h-1zM411,452h1v1h-1zM414,452h1v1h-1zM417,452h1v1h-1zM420,452h1v1h-1zM423,452h1v1h-1zM426,452h1v1h-1zM429,452h1v1h-1zM432,452h1v1h-1zM435,452h1v1h-1zM438,452h1v1h-1zM441,452h1v1h-1zM444,452h1v1h-1zM447,452h1v1h-1zM450,452h1v1h-1zM453,452h1v1h-1zM456,452h1v1h-1zM459,452h1v1h-1zM462,452h1v1h-1zM465,452h1v1h-1zM468,452h1v1h-1zM471,452h1v1h-1zM474,452h1v1h-1zM477,452h1v1h-1zM480,452h1v1h-1zM483,452h1v1h-1zM486,452h1v1h-1zM489,452h1v1h-1zM492,452h1v1h-1zM495,452h1v1h-1zM498,452h1v1h-1zM501,452h1v1h-1zM504,452h1v1h-1zM507,452h1v1h-1zM510,452h1v1h-1zM513,452h1v1h-1zM516,452h1v1h-1zM519,452h1v1h-1zM522,452h1v1h-1zM525,452h1v1h-1zM528,452h1v1h-1zM531,452h1v1h-1zM534,452h1v1h-1zM537,452h1v1h-1zM540,452h1v1h-1zM543,452h1v1h-1zM546,452h1v1h-1zM549,452h1v1h-1zM552,452h1v1h-1zM555,452h1v1h-1zM558,452h1v1h-1zM561,452h1v1h-1zM564,452h1v1h-1zM567,452h1v1h-1zM570,452h1v1h-1zM573,452h1v1h-1zM576,452h1v1h-1zM579,452h1v1h-1zM582,452h1v1h-1zM585,452h1v1h-1zM588,452h1v1h-1zM591,452h1v1h-1zM594,452h1v1h-1zM597,452h1v1h-1zM600,452h1v1h-1zM603,452h1v1h-1zM606,452h1v1h-1zM609,452h1v1h-1zM612,452h1v1h-1zM615,452h1v1h-1zM618,452h1v1h-1zM621,452h1v1h-1zM624,452h1v1h-1zM627,452h1v1h-1zM630,452h1v1h-1zM633,452h1v1h-1zM636,452h1v1h-1zM639,452h1v1h-1zM642,452h1v1h-1zM645,452h1v1h-1zM648,452h1v1h-1zM651,452h1v1h-1zM654,452h1v1h-1zM657,452h1v1h-1zM660,452h1v1h-1zM663,452h1v1h-1zM666,452h1v1h-1zM669,452h1v1h-1zM672,452h1v1h-1zM675,452h1v1h-1zM678,452h1v1h-1zM681,452h1v1h-1zM684,452h1v1h-1zM687,452h1v1h-1zM690,452h1v1h-1zM693,452h1v1h-1zM696,452h1v1h-1zM699,452h1v1h-1zM702,452h1v1h-1zM705,452h1v1h-1zM708,452h1v1h-1zM711,452h1v1h-1zM714,452h1v1h-1zM717,452h1v1h-1zM720,452h1v1h-1zM723,452h1v1h-1zM726,452h1v1h-1zM729,452h1v1h-1zM732,452h1v1h-1zM735,452h1v1h-1zM738,452h1v1h-1zM741,452h1v1h-1zM744,452h1v1h-1zM747,452h1v1h-1zM750,452h1v1h-1zM753,452h1v1h-1zM756,452h1v1h-1zM759,452h1v1h-1zM762,452h1v1h-1zM765,452h1v1h-1zM768,452h1v1h-1zM771,452h1v1h-1zM774,452h1v1h-1zM777,452h1v1h-1zM780,452h1v1h-1zM783,452h1v1h-1zM786,452h1v1h-1zM789,452h1v1h-1zM792,452h1v1h-1zM795,452h1v1h-1zM798,452h1v1h-1zM801,452h1v1h-1zM804,452h1v1h-1zM807,452h1v1h-1zM810,452h1v1h-1zM813,452h1v1h-1zM816,452h1v1h-1zM819,452h1v1h-1zM822,452h1v1h-1zM825,452h1v1h-1zM828,452h1v1h-1zM831,452h1v1h-1zM834,452h1v1h-1zM837,452h1v1h-1zM840,452h1v1h-1zM843,452h1v1h-1zM846,452h1v1h-1zM849,452h1v1h-1zM852,452h1v1h-1zM855,452h1v1h-1zM858,452h1v1h-1zM861,452h1v1h-1zM864,452h1v1h-1zM867,452h1v1h-1zM870,452h1v1h-1zM873,452h1v1h-1zM876,452h1v1h-1zM879,452h1v1h-1zM882,452h1v1h-1zM885,452h1v1h-1zM888,452h1v1h-1zM891,452h1v1h-1zM894,452h1v1h-1zM897,452h1v1h-1zM900,452h1v1h-1zM903,452h1v1h-1zM906,452h1v1h-1zM909,452h1v1h-1zM912,452h1v1h-1zM915,452h1v1h-1zM918,452h1v1h-1zM921,452h1v1h-1zM924,452h1v1h-1zM927,452h1v1h-1zM930,452h1v1h-1zM933,452h1v1h-1zM936,452h1v1h-1zM939,452h1v1h-1zM942,452h1v1h-1zM945,452h1v1h-1zM948,452h1v1h-1zM951,452h1v1h-1zM954,452h1v1h-1zM957,452h1v1h-1zM960,452h1v1h-1zM963,452h1v1h-1zM966,452h1v1h-1zM969,452h1v1h-1zM972,452h1v1h-1zM975,452h1v1h-1zM978,452h1v1h-1zM981,452h1v1h-1zM984,452h1v1h-1zM987,452h1v1h-1zM990,452h1v1h-1zM993,452h1v1h-1zM996,452h1v1h-1zM999,452h1v1h-1zM1002,452h1v1h-1zM1005,452h1v1h-1zM1008,452h1v1h-1zM1011,452h1v1h-1zM1014,452h1v1h-1zM1017,452h1v1h-1zM1020,452h1v1h-1zM1023,452h1v1h-1zM1026,452h1v1h-1zM1029,452h1v1h-1zM1032,452h1v1h-1zM1035,452h1v1h-1zM1038,452h1v1h-1zM1041,452h1v1h-1zM1044,452h1v1h-1zM1047,452h1v1h-1zM1050,452h1v1h-1zM1053,452h1v1h-1zM1056,452h1v1h-1zM1059,452h1v1h-1zM1062,452h1v1h-1zM1065,452h1v1h-1zM1068,452h1v1h-1zM1071,452h1v1h-1zM1074,452h1v1h-1zM1077,452h1v1h-1zM1080,452h1v1h-1zM1083,452h1v1h-1zM1086,452h1v1h-1zM1089,452h1v1h-1zM1092,452h1v1h-1zM1095,452h1v1h-1zM1098,452h1v1h-1zM1101,452h1v1h-1zM1104,452h1v1h-1zM1107,452h1v1h-1zM1110,452h1v1h-1zM1113,452h1v1h-1zM1116,452h1v1h-1zM1119,452h1v1h-1zM1122,452h1v1h-1zM1125,452h1v1h-1zM1128,452h1v1h-1zM1131,452h1v1h-1zM1134,452h1v1h-1zM1137,452h1v1h-1zM1140,452h1v1h-1zM1143,452h1v1h-1zM1146,452h1v1h-1zM1149,452h1v1h-1zM1152,452h1v1h-1zM1155,452h1v1h-1zM1158,452h1v1h-1zM1161,452h1v1h-1zM1164,452h1v1h-1zM1167,452h1v1h-1zM1170,452h1v1h-1zM1173,452h1v1h-1zM1176,452h1v1h-1zM1179,452h1v1h-1zM1182,452h1v1h-1zM1185,452h1v1h-1zM1188,452h1v1h-1zM1191,452h1v1h-1zM1194,452h1v1h-1zM1197,452h1v1h-1zM1200,452h1v1h-1zM1203,452h1v1h-1zM1206,452h1v1h-1zM1209,452h1v1h-1zM1212,452h1v1h-1zM1215,452h1v1h-1zM1218,452h1v1h-1zM1221,452h1v1h-1zM1224,452h1v1h-1zM1227,452h1v1h-1zM1230,452h1v1h-1zM1233,452h1v1h-1zM1236,452h1v1h-1zM1239,452h1v1h-1zM1242,452h1v1h-1zM1245,452h1v1h-1z"/>
</g>
</g>
<g>
<circle cx="931.2" cy="735.4" r="15.55" fill="#fff" stroke="#f23645" stroke-width="2.5"/>
<circle cx="926.7" cy="735.4" r="15.55" fill="#fff" stroke="#f23645" stroke-width="2.5"/>
<circle cx="921.9" cy="735.4" r="15.55" fill="#fff" stroke="#f23645" stroke-width="2.5"/>
<g clip-path="url(#flag)">
<rect x="909" y="723" width="26" height="25" fill="#fafbff"/>
<rect x="909" y="723.1999999999999" width="26" height="5.4" fill="#ef5350"/>
<rect x="909" y="733.15" width="26" height="4.75" fill="#ef5350"/>
<rect x="909" y="742.0" width="26" height="6" fill="#ef5350"/>
<rect x="909" y="723.1999999999999" width="15.199999999999932" height="14.7" fill="#1a7be0"/>
<polygon points="913.25,725.10 913.70,726.18 914.87,726.27 913.98,727.04 914.25,728.18 913.25,727.56 912.25,728.18 912.52,727.04 911.63,726.27 912.80,726.18" fill="#fff"/>
<polygon points="913.25,729.20 913.70,730.28 914.87,730.37 913.98,731.14 914.25,732.28 913.25,731.66 912.25,732.28 912.52,731.14 911.63,730.37 912.80,730.28" fill="#fff"/>
<polygon points="913.25,733.14 913.70,734.22 914.87,734.31 913.98,735.08 914.25,736.22 913.25,735.61 912.25,736.22 912.52,735.08 911.63,734.31 912.80,734.22" fill="#fff"/>
<polygon points="917.20,725.10 917.65,726.18 918.82,726.27 917.93,727.04 918.20,728.18 917.20,727.56 916.20,728.18 916.47,727.04 915.58,726.27 916.75,726.18" fill="#fff"/>
<polygon points="917.20,729.20 917.65,730.28 918.82,730.37 917.93,731.14 918.20,732.28 917.20,731.66 916.20,732.28 916.47,731.14 915.58,730.37 916.75,730.28" fill="#fff"/>
<polygon points="917.20,733.14 917.65,734.22 918.82,734.31 917.93,735.08 918.20,736.22 917.20,735.61 916.20,736.22 916.47,735.08 915.58,734.31 916.75,734.22" fill="#fff"/>
<polygon points="921.14,725.10 921.59,726.18 922.76,726.27 921.87,727.04 922.14,728.18 921.14,727.56 920.14,728.18 920.41,727.04 919.52,726.27 920.69,726.18" fill="#fff"/>
<polygon points="921.14,729.20 921.59,730.28 922.76,730.37 921.87,731.14 922.14,732.28 921.14,731.66 920.14,732.28 920.41,731.14 919.52,730.37 920.69,730.28" fill="#fff"/>
<polygon points="921.14,733.14 921.59,734.22 922.76,734.31 921.87,735.08 922.14,736.22 921.14,735.61 920.14,736.22 920.41,735.08 919.52,734.31 920.69,734.22" fill="#fff"/>
</g></g>
<g font-size="17.6" fill="#131722" stroke="#131722" stroke-width="0.2">
<text x="1261.7" y="115.6" textLength="61.4" lengthAdjust="spacingAndGlyphs">100,000</text>
<text x="1261.7" y="172.6" textLength="52.7" lengthAdjust="spacingAndGlyphs">96,000</text>
<text x="1261.7" y="229.6" textLength="52.7" lengthAdjust="spacingAndGlyphs">92,000</text>
<text x="1261.7" y="286.6" textLength="52.7" lengthAdjust="spacingAndGlyphs">88,000</text>
<text x="1261.7" y="343.6" textLength="52.7" lengthAdjust="spacingAndGlyphs">84,000</text>
<text x="1261.7" y="400.6" textLength="52.7" lengthAdjust="spacingAndGlyphs">80,000</text>
<text x="1261.7" y="514.6" textLength="52.7" lengthAdjust="spacingAndGlyphs">72,000</text>
<text x="1261.7" y="571.6" textLength="52.7" lengthAdjust="spacingAndGlyphs">68,000</text>
<text x="1261.7" y="627.6" textLength="52.7" lengthAdjust="spacingAndGlyphs">64,000</text>
<text x="1261.7" y="684.6" textLength="52.7" lengthAdjust="spacingAndGlyphs">60,000</text>
<text x="1261.7" y="741.6" textLength="52.7" lengthAdjust="spacingAndGlyphs">56,000</text>
</g>
<rect x="1252.5" y="46.5" width="87" height="38.5" rx="5" ry="5" fill="#fff" stroke="#eef0f2" stroke-width="1"/>
<text x="1267.8" y="71.2" font-size="16.8" fill="#131722" textLength="30" lengthAdjust="spacingAndGlyphs">USD</text>
<path d="M1248,232h72a2,2 0 0 1 2,2v23a2,2 0 0 1 -2,2h-72z" fill="#2962ff"/>
<text x="1261.2" y="250.4" font-size="17.6" fill="#fff" stroke="#fff" stroke-width="0.5" textLength="53" lengthAdjust="spacingAndGlyphs">90,605</text>
<path d="M1174,439h73v27h-73a2,2 0 0 1 -2,-2v-23a2,2 0 0 1 2,-2z" fill="#ef5350"/>
<path d="M1248,439h88a2,2 0 0 1 2,2v44a2,2 0 0 1 -2,2h-88z" fill="#ef5350"/>
<text x="1177.4" y="458.5" font-size="17.6" fill="#fff" stroke="#fff" stroke-width="0.5" textLength="62.4" lengthAdjust="spacingAndGlyphs">BTCUSD</text>
<text x="1261.5" y="457.6" font-size="17.6" fill="#fff" stroke="#fff" stroke-width="0.5" textLength="52.8" lengthAdjust="spacingAndGlyphs">76,085</text>
<text x="1260.9" y="479.1" font-size="17.6" fill="#fff" stroke="#fff" stroke-width="0.5" opacity="0.78" textLength="69.4" lengthAdjust="spacingAndGlyphs">04:37:59</text>
<g font-size="16" fill="#131722" stroke="#131722" stroke-width="0.2" text-anchor="middle">
<text class="v" x="56.9" y="782.5">בונ'</text>
<text class="v" x="201.9" y="782.5">מצד'</text>
<text class="v" x="500.9" y="782.5">רבפ'</text>
<text class="v" x="637.5" y="782.5">ץרמ</text>
<text class="v" x="786.9" y="782.5">רפא'</text>
<text class="v" x="932.5" y="782.5">יאמ</text>
<text class="v" x="1080.9" y="782.5">נוי'</text>
<text class="v" x="1226.9" y="782.5">לוי'</text>
<text x="352.2" y="782.5" font-weight="bold" font-size="17" textLength="39.3" lengthAdjust="spacingAndGlyphs">2026</text>
</g>
<g font-size="17" fill="#131722" stroke="#131722" stroke-width="0.3">
<text class="v" x="27.5" y="69.5" textLength="26.25" lengthAdjust="spacingAndGlyphs" stroke="none">םוי1</text>
<circle cx="65.1" cy="64.60" r="1.0"/>
<text class="v" x="75" y="69.5" textLength="56.90" lengthAdjust="spacingAndGlyphs" stroke="none">יאקירמא</text>
<text class="v" x="138.1" y="69.5" textLength="30.65" lengthAdjust="spacingAndGlyphs" stroke="none">רלוד</text>
<text x="176.6" y="69.5" textLength="6.30" lengthAdjust="spacingAndGlyphs" stroke="none">/</text>
<text class="v" x="190" y="69.5" textLength="47.50" lengthAdjust="spacingAndGlyphs" stroke="none">ןיוקטיב</text>
<circle cx="246.5" cy="64.90" r="1.0"/>
<text x="255" y="69.5" textLength="71.25" lengthAdjust="spacingAndGlyphs">Bitstamp</text>
<text x="338.1" y="69.5" textLength="51.90" lengthAdjust="spacingAndGlyphs" fill="#ef5350" stroke="#ef5350">−1,288</text>
<text x="397.5" y="69.5" textLength="66.25" lengthAdjust="spacingAndGlyphs" fill="#ef5350" stroke="#ef5350">(−1.66%)</text>
<text class="v" x="27.5" y="95.1" textLength="40.00" lengthAdjust="spacingAndGlyphs" stroke="none">רוזחמ</text>
<circle cx="77.5" cy="90.50" r="1.0"/>
<text x="86.5" y="95.1" textLength="31.30" lengthAdjust="spacingAndGlyphs">BTC</text>
<text x="26.5" y="121.9" textLength="83.75" lengthAdjust="spacingAndGlyphs">MA Ribbon</text>
</g>
<g font-size="18" font-weight="bold" fill="#dadada">
<text x="15.8" y="29.0" textLength="170.70" lengthAdjust="spacingAndGlyphs">FibonacciPsychologist</text>
<text class="v" x="196.2" y="29.0" textLength="15.30" lengthAdjust="spacingAndGlyphs" font-size="17" stroke="#dadada" stroke-width="0.5">םע</text>
<text class="v" x="220.4" y="29.0" textLength="28.30" lengthAdjust="spacingAndGlyphs" font-size="17" stroke="#dadada" stroke-width="0.3">רצונ</text>
<text x="256.8" y="29.0" textLength="139.00" lengthAdjust="spacingAndGlyphs">TradingView.com,</text>
<text x="402.4" y="29.0" textLength="42.10" lengthAdjust="spacingAndGlyphs">22:22</text>
<text x="454.2" y="29.0" textLength="33.90" lengthAdjust="spacingAndGlyphs">2026</text>
<text x="497" y="29.0" textLength="23.40" lengthAdjust="spacingAndGlyphs">,28</text>
<text class="v" x="526.9" y="29.0" textLength="30.70" lengthAdjust="spacingAndGlyphs" font-size="16.5" stroke="#dadada" stroke-width="0.3">'רפא</text>
<text x="564.1" y="29.0" textLength="50.90" lengthAdjust="spacingAndGlyphs">UTC+3</text>
</g>
<g fill="#dcdcdc">
<path d="M17.9,829.9H36.1V852.7H27.05V839.25H17.9z"/>
<circle cx="43.4" cy="834.5" r="4.55"/>
<path d="M52,829.9H63.05L53.9,852.7H43.65z"/>
<text x="73.5" y="852.7" font-size="32.5" font-weight="bold" stroke="#dcdcdc" stroke-width="0.35" textLength="181.7" lengthAdjust="spacingAndGlyphs">TradingView</text>
</g>
</svg>
</body></html>
